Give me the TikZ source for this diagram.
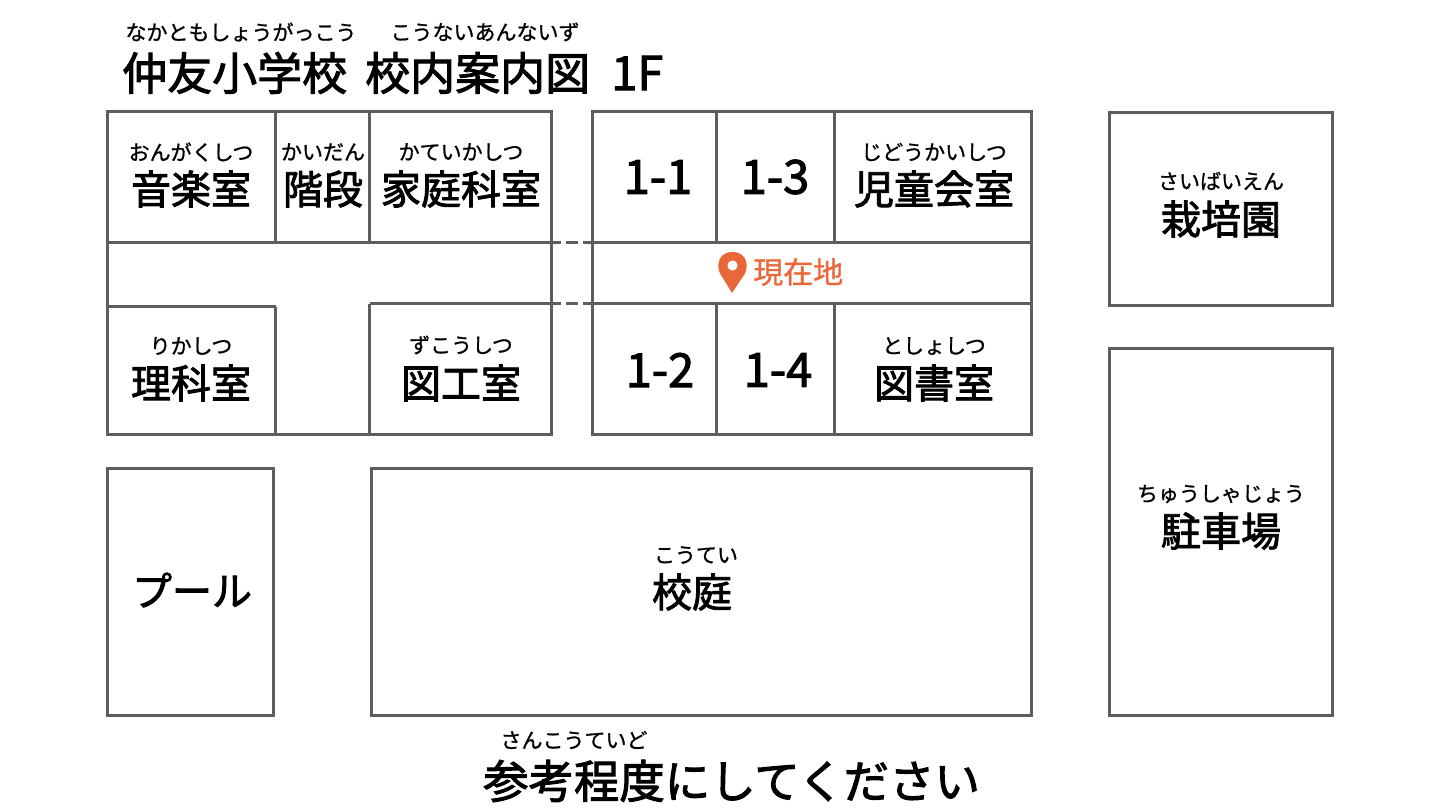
\documentclass[tikz,border=0pt]{standalone}
\usepackage{fontspec}
\setmainfont[FakeBold=2.2]{Noto Sans CJK JP}
\newfontfamily\furifont[FakeBold=1]{Noto Sans CJK JP}
\definecolor{wallgray}{HTML}{5E5E5E}
\definecolor{pinorange}{HTML}{EA673A}
\begin{document}
\begin{tikzpicture}[x=1pt,y=-1pt,
  wall/.style={draw=wallgray,line width=3.1pt},
  thinwall/.style={draw=wallgray,line width=3pt},
  furi/.style={inner sep=0pt,font=\furifont\fontsize{21}{21}\selectfont},
  room/.style={inner sep=0pt,font=\fontsize{40}{40}\selectfont},
  num/.style={inner sep=0pt,font=\fontsize{47}{47}\selectfont},
  title/.style={inner sep=0pt,font=\fontsize{45}{45}\selectfont}]

\useasboundingbox (0,0) rectangle (1442,810);

% title
\node[furi] (titlefuria) at(241,32){なかともしょうがっこう};
\node[furi] (titlefurib) at(485,32){こうないあんないず};
\node[title,anchor=west] (titlea) at(122,73){仲友小学校};
\node[title,anchor=west] (titleb) at(365,73){校内案内図};
\node[title,anchor=west,font=\fontsize{47}{47}\selectfont] (titlec) at(611,73){1F};

% left block
\draw[wall] (107.5,111.5) rectangle (551.5,434.5);
\draw[wall] (107.5,242.5)--(551.5,242.5);
\draw[thinwall] (107.5,306.5)--(275.5,306.5);
\draw[thinwall] (369.5,303.5)--(551.5,303.5);
\draw[thinwall] (275.5,111.5)--(275.5,242.5);
\draw[thinwall] (369.5,111.5)--(369.5,242.5);
\draw[thinwall] (275.5,306.5)--(275.5,434.5);
\draw[thinwall] (369.5,303.5)--(369.5,434.5);

% right block
\draw[wall] (592.5,111.5) rectangle (1031.5,434.5);
\draw[wall] (592.5,242.5)--(1031.5,242.5);
\draw[wall] (592.5,303.5)--(1031.5,303.5);
\draw[thinwall] (716.5,111.5)--(716.5,242.5);
\draw[thinwall] (834.5,111.5)--(834.5,242.5);
\draw[thinwall] (716.5,303.5)--(716.5,434.5);
\draw[thinwall] (834.5,303.5)--(834.5,434.5);

% dashes between the blocks
\foreach \y in {242.5,303.5}{
\draw[thinwall] (552,\y)--(561,\y);
\draw[thinwall] (566,\y)--(578,\y);
\draw[thinwall] (583,\y)--(592,\y);
}

% outside
\draw[thinwall] (1109.5,112.5) rectangle (1332.5,305.5);
\draw[thinwall] (1109.5,348.5) rectangle (1332.5,715.5);
\draw[thinwall] (107.5,468.5) rectangle (273.5,715.5);
\draw[thinwall] (371.5,468.5) rectangle (1031.5,715.5);

% rooms
\node[furi] (ongakuf) at(191,152){おんがくしつ};
\node[room] (ongaku) at(191,189){音楽室};
\node[furi] (kaidanf) at(323,152){かいだん};
\node[room] (kaidan) at(323,189){階段};
\node[furi] (kateif) at(461,152){かていかしつ};
\node[room] (katei) at(461,189){家庭科室};
\node[num] (onea) at(658,177){1-1};
\node[num] (oneb) at(775,177){1-3};
\node[furi] (jidouf) at(934,152){じどうかいしつ};
\node[room] (jidou) at(934,189){児童会室};
\node[furi] (rikaf) at(191,346){りかしつ};
\node[room] (rika) at(191,383){理科室};
\node[furi] (zukouf) at(461,345){ずこうしつ};
\node[room] (zukou) at(461,383){図工室};
\node[num] (onec) at(660,370){1-2};
\node[num] (oned) at(778,370){1-4};
\node[furi] (toshof) at(934,346){としょしつ};
\node[room] (tosho) at(934,383){図書室};
\node[furi] (saibaif) at(1221,181){さいばいえん};
\node[room] (saibai) at(1221,219){栽培園};
\node[furi] (chushaf) at(1221,494){ちゅうしゃじょう};
\node[room] (chusha) at(1221,531){駐車場};
\node[room] (pool) at(192,590){プール};
\node[furi] (koteif) at(696,555){こうてい};
\node[room] (kotei) at(692,592){校庭};

% here
\fill[pinorange,even odd rule] (732,293)--(721,275) .. controls (716,268) and (717,252) .. (732.5,252) .. controls (748,252) and (749,268) .. (744,275)--cycle (732.5,265.5) circle (5.2);
\node[inner sep=0pt,text=pinorange,font=\furifont\fontsize{30}{30}\selectfont,anchor=west] (genzai) at(753,272){現在地};

% bottom
\node[furi] (sankof) at(574,740){さんこうていど};
\node[inner sep=0pt,anchor=west,font=\fontsize{45.4}{45.4}\selectfont] (sanko) at(483,781){参考程度にしてください};

\end{tikzpicture}
\end{document}
